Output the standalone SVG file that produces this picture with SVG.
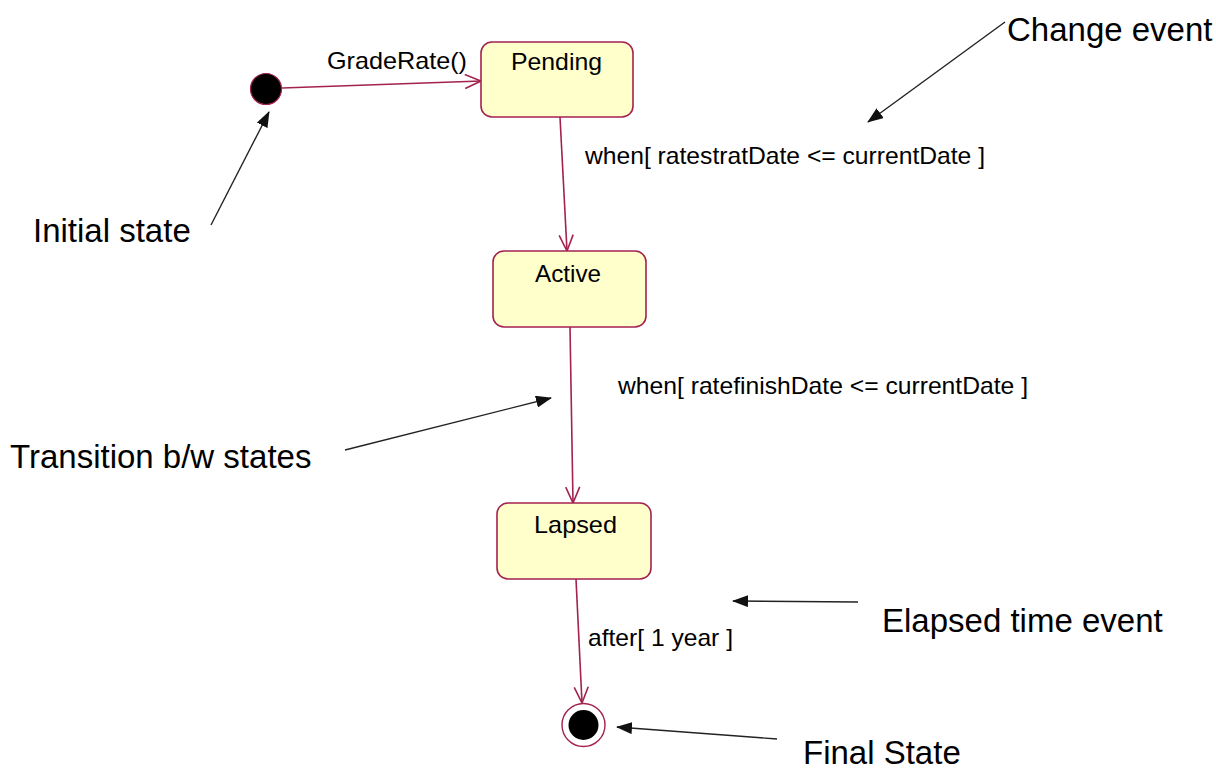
<svg xmlns="http://www.w3.org/2000/svg" width="1216" height="771" viewBox="0 0 1216 771">
  <style>
    .state rect { fill: #FFFFCC; stroke: #A3224F; stroke-width: 1.6; }
    .name { font-family: "Liberation Sans", Arial, sans-serif; font-size: 24px; fill: #000; }
    .lbl { font-family: "Liberation Sans", Arial, sans-serif; font-size: 24px; fill: #000; }
    .note { font-family: "Liberation Sans", Arial, sans-serif; font-size: 33px; fill: #000; }
    .trans { fill: none; stroke: #A3224F; stroke-width: 1.6; marker-end: url(#open); }
    .pointer { fill: none; stroke: #222; stroke-width: 1.4; marker-end: url(#solid); }
  </style>
  <defs>
    <marker id="open" viewBox="0 0 20 20" refX="18" refY="10" markerWidth="20" markerHeight="20" markerUnits="userSpaceOnUse" orient="auto">
      <path d="M2,3 L18,10 L2,17" fill="none" stroke="#A3224F" stroke-width="1.6"/>
    </marker>
    <marker id="solid" viewBox="0 0 16 12" refX="15" refY="6" markerWidth="16" markerHeight="12" markerUnits="userSpaceOnUse" orient="auto">
      <path d="M0,0 L16,6 L0,12 Z" fill="#111"/>
    </marker>
  </defs>

  <rect width="1216" height="771" fill="#fff"/>

  <!-- transitions -->
  <g id="connectors">
    <path class="trans" d="M282,88 L481,81"/>
    <path class="trans" d="M560,117 L567,251"/>
    <path class="trans" d="M570,327 L573,503"/>
    <path class="trans" d="M576,579 L582,703"/>
  </g>

  <!-- transition labels -->
  <g id="labels">
    <text class="lbl" x="327" y="69" textLength="140" lengthAdjust="spacingAndGlyphs">GradeRate()</text>
    <text class="lbl" x="585" y="164" textLength="400" lengthAdjust="spacingAndGlyphs">when[ ratestratDate &lt;= currentDate ]</text>
    <text class="lbl" x="618" y="394" textLength="410" lengthAdjust="spacingAndGlyphs">when[ ratefinishDate &lt;= currentDate ]</text>
    <text class="lbl" x="588" y="646" textLength="145" lengthAdjust="spacingAndGlyphs">after[ 1 year ]</text>
  </g>

  <g id="initial">
    <circle cx="266" cy="89" r="15.5" fill="#000" stroke="#A3224F" stroke-width="1.2"/>
  </g>

  <g id="pending" class="state">
    <rect x="481" y="42" width="152" height="75" rx="11"/>
    <text class="name" x="511" y="70" textLength="91" lengthAdjust="spacingAndGlyphs">Pending</text>
  </g>

  <g id="active" class="state">
    <rect x="493" y="251" width="153" height="76" rx="11"/>
    <text class="name" x="535" y="282" textLength="66" lengthAdjust="spacingAndGlyphs">Active</text>
  </g>

  <g id="lapsed" class="state">
    <rect x="497" y="503" width="154" height="76" rx="11"/>
    <text class="name" x="534" y="533" textLength="83" lengthAdjust="spacingAndGlyphs">Lapsed</text>
  </g>

  <g id="final">
    <circle cx="583.5" cy="725" r="21.5" fill="#fff" stroke="#A3224F" stroke-width="1.4"/>
    <circle cx="583.5" cy="725" r="15" fill="#000"/>
  </g>

  <!-- annotations -->
  <g id="note-change">
    <text class="note" x="1007" y="41">Change event</text>
    <path class="pointer" d="M1005,22 L868,122"/>
  </g>
  <g id="note-initial">
    <text class="note" x="33" y="242">Initial state</text>
    <path class="pointer" d="M211,225 L269,112"/>
  </g>
  <g id="note-transition">
    <text class="note" x="10" y="468">Transition b/w states</text>
    <path class="pointer" d="M345,450 L551,398"/>
  </g>
  <g id="note-elapsed">
    <text class="note" x="882" y="632">Elapsed time event</text>
    <path class="pointer" d="M858,602 L733,601"/>
  </g>
  <g id="note-final">
    <text class="note" x="803" y="764">Final State</text>
    <path class="pointer" d="M777,739 L617,727"/>
  </g>
</svg>
